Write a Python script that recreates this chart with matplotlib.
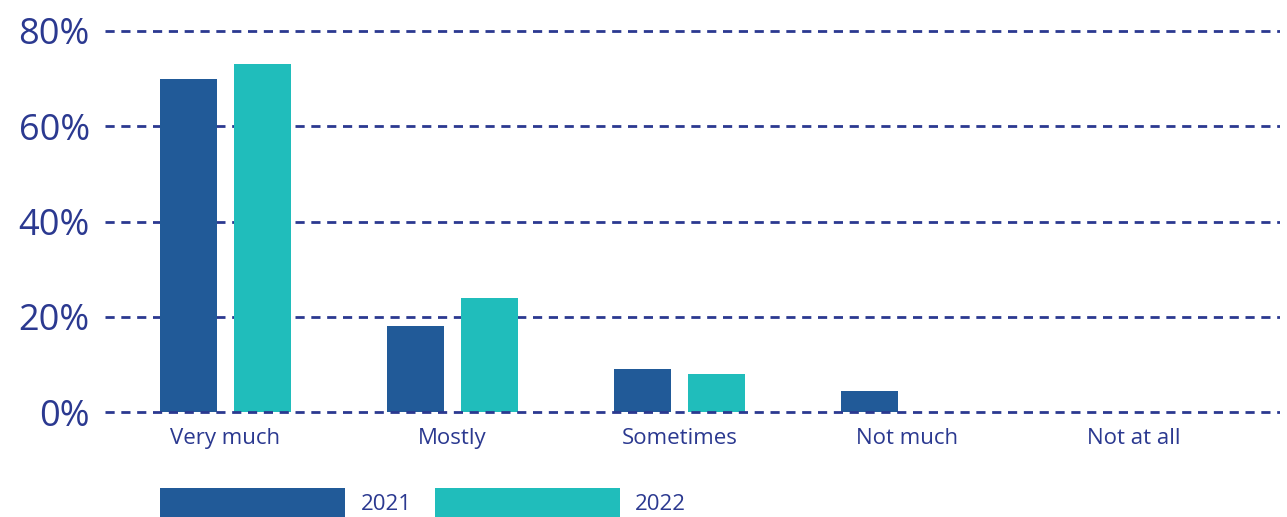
import matplotlib
matplotlib.use("Agg")
import matplotlib.pyplot as plt
import numpy as np

categories = ["Very much", "Mostly", "Sometimes", "Not much", "Not at all"]
series_names = ["2021", "2022"]
values_2021 = [70, 18, 9, 4.4, 0]
values_2022 = [73, 24, 8, 0, 0]
yticks = [0, 20, 40, 60, 80]
ytick_labels = ["0%", "20%", "40%", "60%", "80%"]

c2021 = "#215a98"
c2022 = "#20bdbb"
txt = "#2b3990"

plt.rcParams['font.family'] = ['Open Sans', 'DejaVu Sans']

W, H = 1287, 517
fig = plt.figure(figsize=(W / 100, H / 100), dpi=100)
ax = fig.add_axes([105 / W, 0.1938, (1280 - 105) / W, 0.7555])

x = np.arange(len(categories))
bw = 0.251
off = 0.163
ax.bar(x - off, values_2021, bw, color=c2021, label=series_names[0], zorder=2)
ax.bar(x + off, values_2022, bw, color=c2022, label=series_names[1], zorder=2)

for yv in yticks:
    ax.axhline(yv, color=txt, lw=2, ls=(0, (3.3, 2.4)), zorder=3 if yv == 0 else 1)

ax.set_xlim(-0.531, 4.645)
ax.set_ylim(-1, 81)
ax.set_yticks(yticks)
ax.set_yticklabels(ytick_labels, fontsize=26, color=txt)
ax.set_xticks(x)
ax.set_xticklabels(categories, fontsize=16, color=txt)
ax.tick_params(axis='both', length=0)
ax.tick_params(axis='y', pad=11)
ax.tick_params(axis='x', pad=8)
for s in ax.spines.values():
    s.set_visible(False)

leg = fig.legend(loc='center left', bbox_to_anchor=(160 / W, 1 - 502.5 / H),
                 ncol=2, frameon=False, fontsize=16, handlelength=8.32,
                 handleheight=1.6, handletextpad=0.7, columnspacing=1.05,
                 borderpad=0, borderaxespad=0)
for t in leg.get_texts():
    t.set_color(txt)

fig.savefig("out.png", dpi=100)
